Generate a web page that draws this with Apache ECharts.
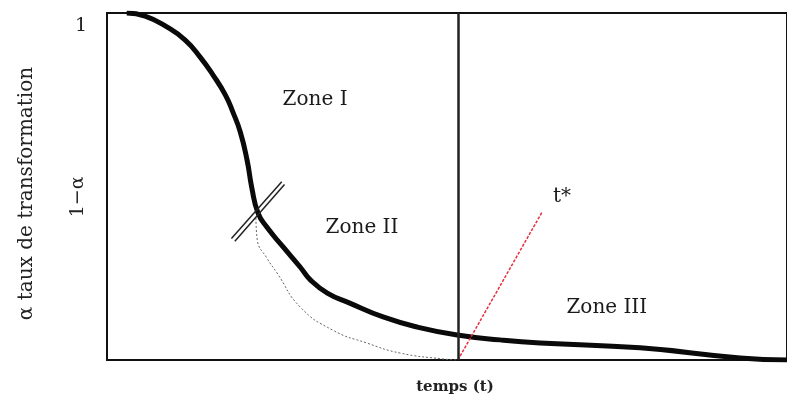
<!DOCTYPE html>
<html>
<head>
<meta charset="utf-8">
<script src="https://cdn.jsdelivr.net/npm/echarts@6/dist/echarts.min.js"></script>
<style>
  html, body { margin: 0; padding: 0; background: #fff; }
  #chart { width: 787px; height: 404px; }
</style>
</head>
<body>
<div id="chart"></div>
<script>
// mesured curve : 1 - alpha vs temps
const thickT = [2.9, 5.6, 8.8, 11.5, 13.7, 15.6, 17.4, 18.5, 19.6, 20.6, 21.3, 22.2, 23.5, 25.9, 28.4, 29.9, 32.4, 35.7, 40.6, 45.6, 51.5, 57.8, 63.7, 78.4, 93.1, 100];
const thickY = [1.0, 0.991, 0.960, 0.922, 0.873, 0.821, 0.764, 0.715, 0.657, 0.576, 0.496, 0.424, 0.383, 0.326, 0.268, 0.231, 0.193, 0.164, 0.124, 0.095, 0.072, 0.058, 0.049, 0.035, 0.006, 0.0];

// thin dotted curve (model)
const thinT = [21.9, 22.1, 23.5, 25.0, 28.4, 33.2, 38.2, 43.1, 49.4, 51.6];
const thinY = [0.409, 0.346, 0.294, 0.251, 0.153, 0.086, 0.049, 0.020, 0.003, 0.0];

// zone separation and t*
const tSep = 51.6;
const redT = [51.6, 64.0];
const redY = [0.0, 0.427];

// double hatch across the curve
const hatchAT = [18.3, 25.7];
const hatchAY = [0.350, 0.514];
const hatchBT = [18.8, 26.1];
const hatchBY = [0.342, 0.506];

const zoneNames = ['Zone I', 'Zone II', 'Zone III', 't*'];
const zoneT = [30.6, 37.5, 73.5, 66.9];
const zoneY = [0.749, 0.380, 0.150, 0.470];

const oneMinusAlphaY = 0.47;

const serif = 'DejaVu Serif';

function pairs(xs, ys) {
  return xs.map((x, i) => [x, ys[i]]);
}

var myChart = echarts.init(document.getElementById('chart'));

var option = {
  animation: false,
  backgroundColor: '#fff',
  grid: {
    left: 107,
    top: 13,
    right: -3,
    bottom: 44,
    show: true,
    borderColor: '#111',
    borderWidth: 2,
  },
  xAxis: {
    type: 'value',
    min: 0,
    max: 100,
    name: 'temps (t)',
    nameLocation: 'middle',
    nameGap: 20,
    nameTextStyle: {
      fontFamily: serif,
      fontSize: 15,
      fontWeight: 'bold',
      color: '#222',
      padding: [0, 0, 0, 16],
    },
    axisLine: { show: false },
    axisTick: { show: false },
    axisLabel: { show: false },
    splitLine: { show: false },
  },
  yAxis: {
    type: 'value',
    min: 0,
    max: 1,
    interval: 1,
    name: 'α taux de transformation',
    nameLocation: 'middle',
    nameRotate: 90,
    nameGap: 70,
    nameTextStyle: {
      fontFamily: serif,
      fontSize: 20,
      color: '#222',
      padding: [0, 14, 0, 0],
    },
    axisLine: { show: false },
    axisTick: { show: false },
    splitLine: { show: false },
    axisLabel: {
      margin: 20,
      fontFamily: serif,
      fontSize: 19,
      color: '#222',
      verticalAlign: 'top',
      padding: [4, 0, 0, 0],
      formatter: (v) => (v === 1 ? '1' : ''),
    },
  },
  series: [
    {
      type: 'line',
      data: pairs(thinT, thinY),
      smooth: 0.5,
      symbol: 'none',
      lineStyle: { color: '#666', width: 1, type: [2, 2] },
      z: 2,
    },
    {
      type: 'line',
      data: pairs(thickT, thickY),
      smooth: 0.5,
      symbol: 'none',
      lineStyle: { color: '#0a0a0a', width: 5 },
      z: 3,
      markLine: {
        silent: true,
        symbol: 'none',
        label: { show: false },
        lineStyle: { color: '#222', width: 2.5, type: 'solid' },
        data: [{ xAxis: tSep }],
      },
    },
    {
      type: 'line',
      data: pairs(redT, redY),
      symbol: 'none',
      lineStyle: { color: '#e8303c', width: 1.5, type: [3, 1.5] },
      z: 4,
    },
    {
      type: 'line',
      data: pairs(hatchAT, hatchAY),
      symbol: 'none',
      lineStyle: { color: '#222', width: 1.5 },
      z: 4,
    },
    {
      type: 'line',
      data: pairs(hatchBT, hatchBY),
      symbol: 'none',
      lineStyle: { color: '#222', width: 1.5 },
      z: 4,
    },
    {
      type: 'scatter',
      symbolSize: 0,
      itemStyle: { opacity: 1 },
      data: zoneNames.map((n, i) => ({ name: n, value: [zoneT[i], zoneY[i]] })),
      label: {
        show: true,
        position: 'inside',
        formatter: (p) => p.name,
        fontFamily: serif,
        fontSize: 20,
        color: '#1a1a1a',
        textBorderWidth: 0,
      },
      z: 5,
    },
  ],
};

myChart.setOption(option);

// rotated "1-α" label beside the axis, at the hatch level
var p = myChart.convertToPixel({ gridIndex: 0 }, [0, oneMinusAlphaY]);
myChart.setOption({
  graphic: [
    {
      type: 'text',
      x: p[0] - 29,
      y: p[1],
      rotation: Math.PI / 2,
      style: {
        text: '1−α',
        fontFamily: serif,
        fontSize: 19,
        fill: '#222',
        align: 'center',
        verticalAlign: 'middle',
      },
    },
  ],
});
</script>
</body>
</html>
